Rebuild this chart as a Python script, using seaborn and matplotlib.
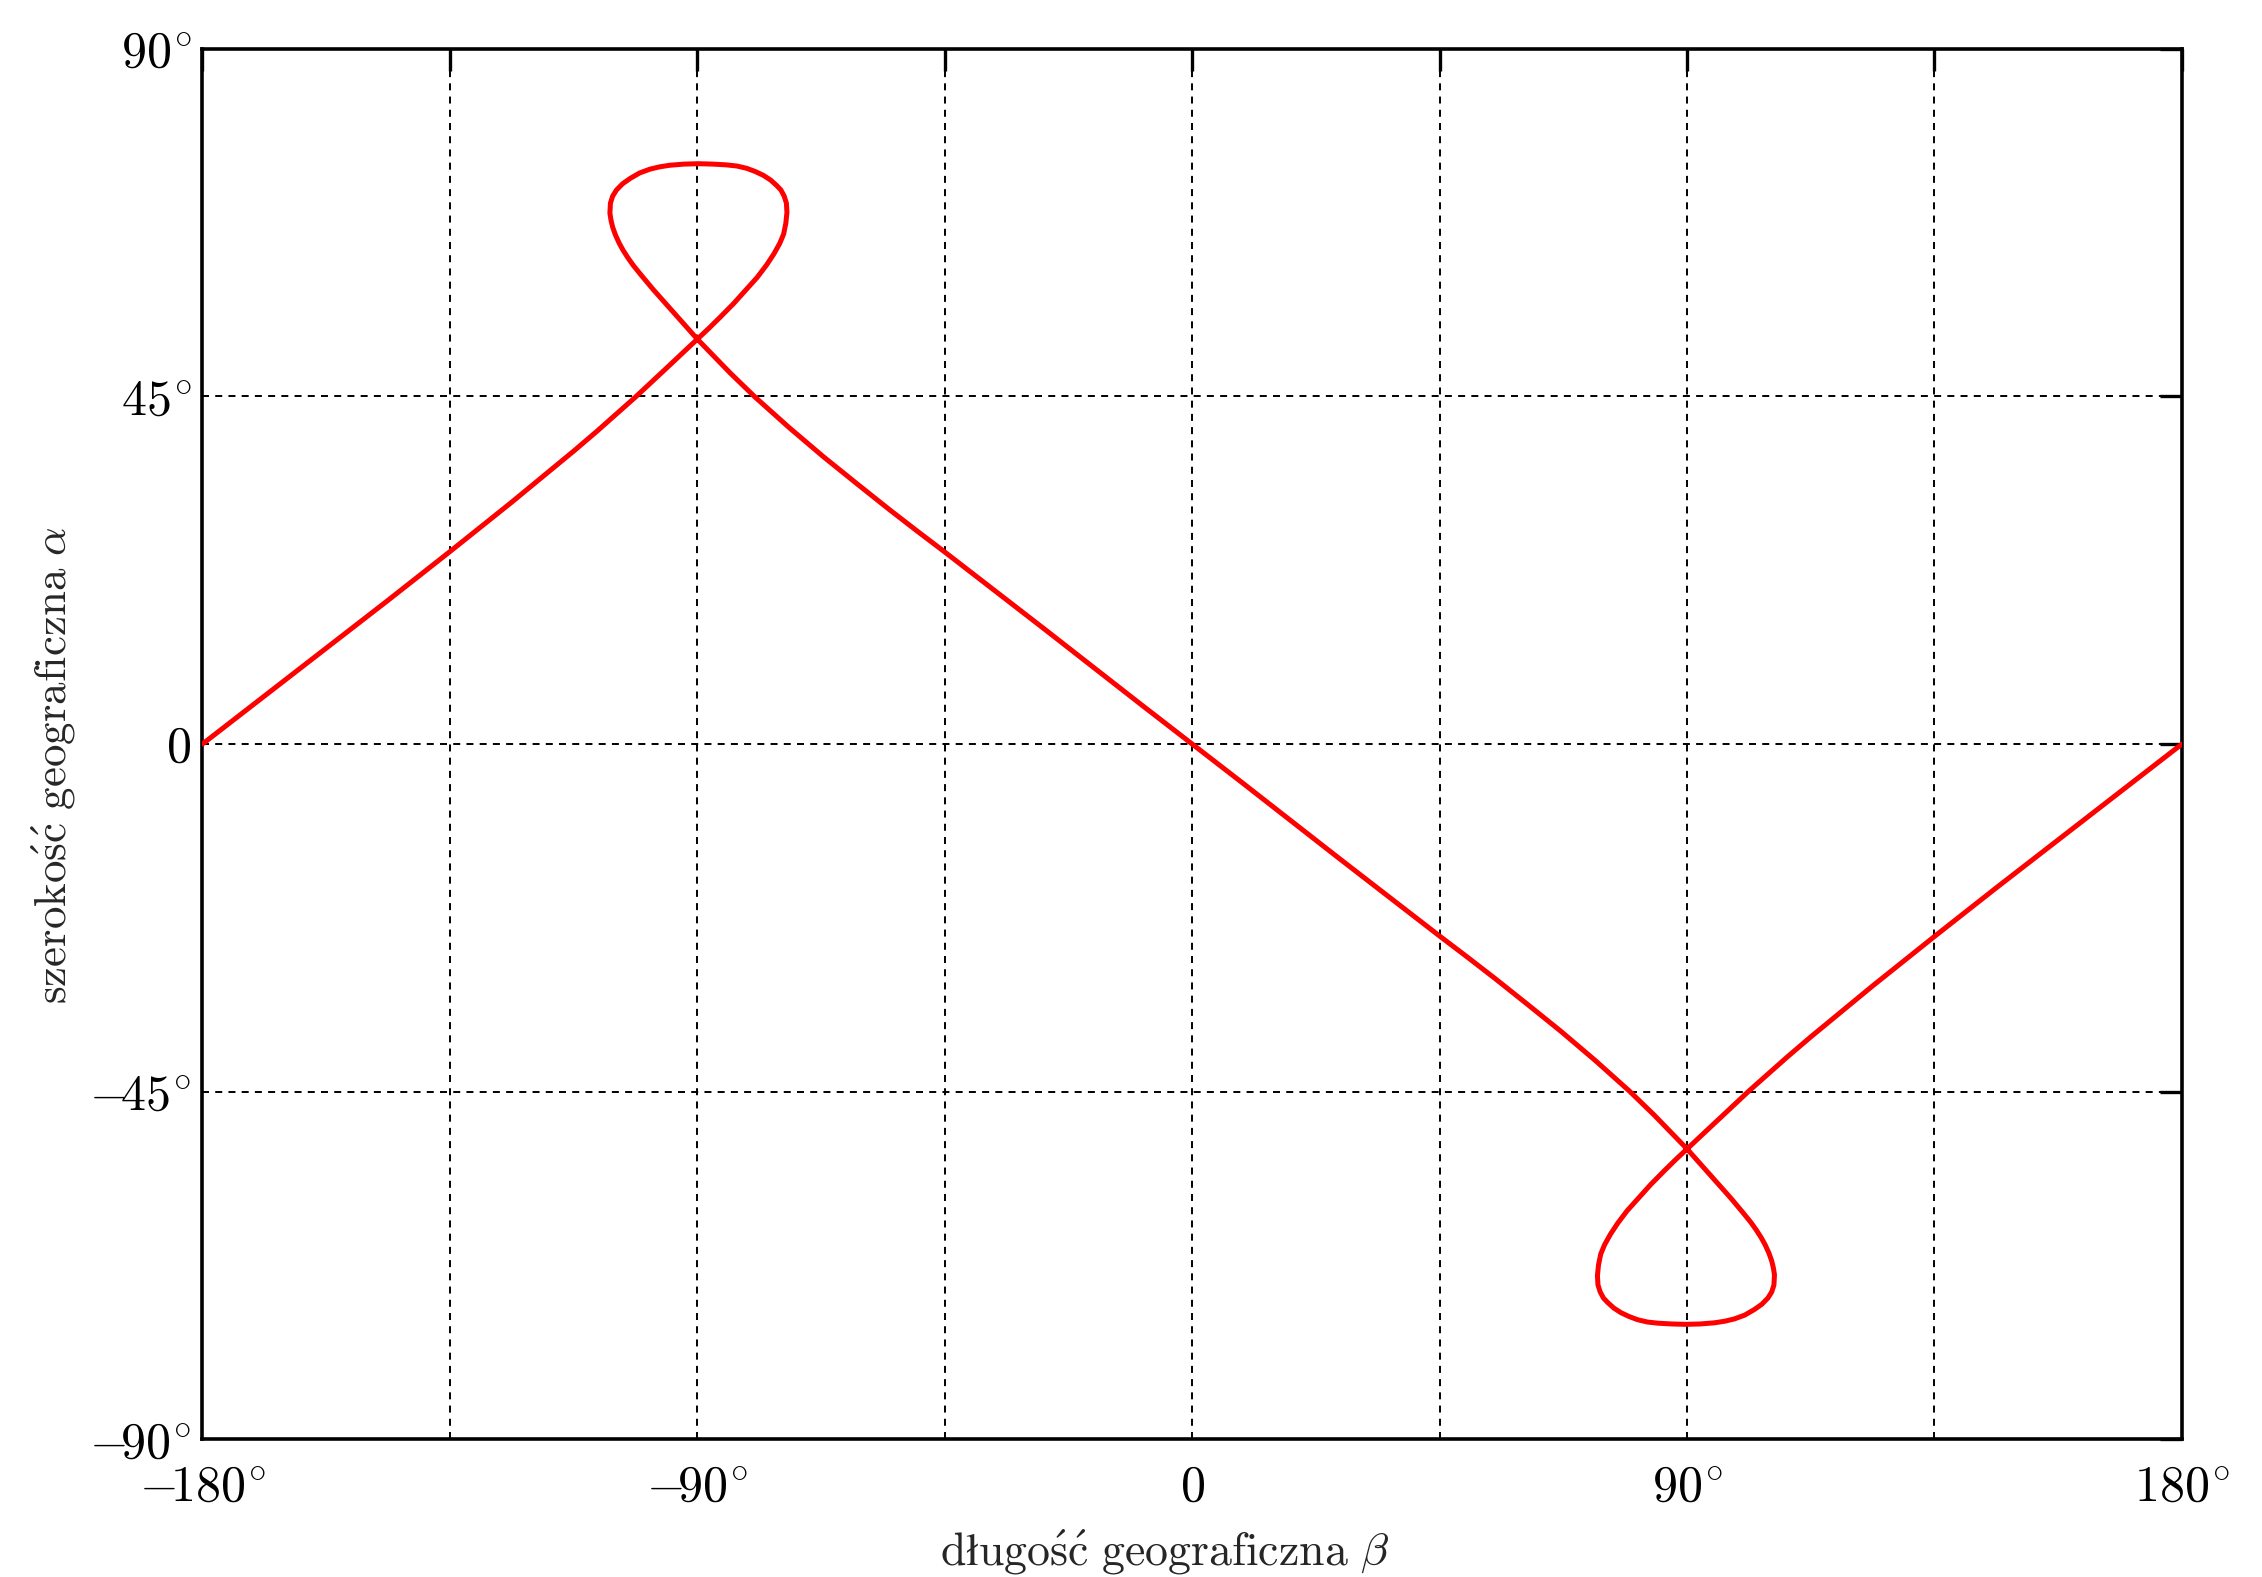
import numpy as np
import pandas as pd
import matplotlib
matplotlib.use("Agg")
import matplotlib.pyplot as plt
import seaborn as sns

# ---- data (path order) ----
seg_a_lon = [-180, -168.75, -157.5, -146.25, -135, -123.75, -112.5, -108.3, -101.25, -95.6, -90]
seg_a_lat = [0, 6.2, 12.4, 18.6, 24.9, 31.3, 37.9, 40.45, 44.9, 48.65, 52.4]

loop_n_lon = [-87.9, -85.9, -83.4, -81.0, -79.1, -77.4, -76.1, -75.0, -74.3, -73.9, -73.7,
              -73.8, -74.2, -74.8, -75.6, -76.7, -78.0, -79.5, -81.0, -82.8, -84.7,
              -87.2, -89.8, -92.4, -95.0, -96.8, -98.6, -100.5, -102.2, -103.6, -104.7,
              -105.4, -105.8, -105.9, -105.7, -105.4, -104.9, -104.2, -103.5, -102.6,
              -101.6, -100.0, -98.0, -96.0, -94.0, -92.0, -90.0]
loop_n_lat = [53.8, 55.2, 57.0, 58.9, 60.4, 62.0, 63.4, 64.8, 66.0, 67.4, 68.8,
              70.0, 70.9, 71.7, 72.3, 73.0, 73.6, 74.1, 74.5, 74.8, 74.95,
              75.05, 75.1, 75.05, 74.9, 74.7, 74.4, 73.9, 73.2, 72.5, 71.7,
              70.9, 70.0, 68.7, 67.8, 66.9, 65.9, 64.8, 63.9, 62.9,
              61.9, 60.5, 58.8, 57.2, 55.6, 54.0, 52.4]

seg_b_lon = [-87.0, -84.0, -79.5, -73.3, -67.1, -61.0, -55.0, -50.0, -45.0, -36.0, -27.0, -18.0, -9.0, 0]
seg_b_lat = [50.2, 48.0, 44.9, 40.95, 37.2, 33.7, 30.3, 27.55, 24.85, 19.9, 14.95, 9.95, 4.95, 0]

seg_c_lon = [9.0, 18.0, 27.0, 36.0, 45.0, 50.0, 55.0, 61.0, 67.1, 73.3, 79.5, 84.0, 87.0, 90.0]
seg_c_lat = [-4.95, -9.95, -14.95, -19.9, -24.85, -27.55, -30.3, -33.7, -37.2, -40.95, -44.9, -48.0, -50.2, -52.4]

loop_s_lon = [92.0, 94.0, 96.0, 98.0, 100.0, 101.6, 102.6, 103.5, 104.2, 104.9, 105.4, 105.7,
              105.9, 105.8, 105.4, 104.7, 103.6, 102.2, 100.5, 98.6, 96.8, 95.0,
              92.4, 89.8, 87.2, 84.7, 82.8, 81.0, 79.5, 78.0, 76.7, 75.6,
              74.8, 74.2, 73.8, 73.7, 73.9, 74.3, 75.0, 76.1, 77.4,
              79.1, 81.0, 83.4, 85.9, 87.9, 90.0]
loop_s_lat = [-54.0, -55.6, -57.2, -58.8, -60.5, -61.9, -62.9, -63.9, -64.8, -65.9, -66.9, -67.8,
              -68.7, -70.0, -70.9, -71.7, -72.5, -73.2, -73.9, -74.4, -74.7, -74.9,
              -75.05, -75.1, -75.05, -74.95, -74.8, -74.5, -74.1, -73.6, -73.0, -72.3,
              -71.7, -70.9, -70.0, -68.8, -67.4, -66.0, -64.8, -63.4, -62.0,
              -60.4, -58.9, -57.0, -55.2, -53.8, -52.4]

seg_d_lon = [95.6, 101.25, 108.3, 112.5, 123.75, 135.0, 146.25, 157.5, 168.75, 180.0]
seg_d_lat = [-48.65, -44.9, -40.45, -37.9, -31.3, -24.9, -18.6, -12.4, -6.2, 0]

x_ticks = [-180, -135, -90, -45, 0, 45, 90, 135, 180]
x_ticklabels = [r"$-\!180^{\!\circ}$", "", r"$-\!90^{\!\circ}$", "", r"$0$", "",
                r"$90^{\!\circ}$", "", r"$180^{\!\circ}$"]
y_ticks = [-90, -45, 0, 45, 90]
y_ticklabels = [r"$-\!90^{\!\circ}$", r"$-\!45^{\!\circ}$", r"$0$", r"$45^{\!\circ}$", r"$90^{\!\circ}$"]

xlabel_math = r"$\mathrm{d\l ugo\acute{s}\acute{c}\ geograficzna}\ \beta$"
ylabel_math = r"$\mathrm{szeroko\acute{s}\acute{c}\ geograficzna}\ \alpha$"
xlabel_plain = "długość geograficzna $\\beta$"
ylabel_plain = "szerokość geograficzna $\\alpha$"

lon = seg_a_lon + loop_n_lon + seg_b_lon + seg_c_lon + loop_s_lon + seg_d_lon
lat = seg_a_lat + loop_n_lat + seg_b_lat + seg_c_lat + loop_s_lat + seg_d_lat
df = pd.DataFrame({"lon": lon, "lat": lat})

# ---- style ----
sns.set_style("white")
plt.rcParams["font.family"] = ["cmr10", "DejaVu Serif"]
plt.rcParams["mathtext.fontset"] = "cm"
plt.rcParams["axes.unicode_minus"] = False

fig = plt.figure(figsize=(11.31, 7.885), dpi=200)
ax = fig.add_axes([0.0895, 0.0872, 0.9646 - 0.0895, 0.9692 - 0.0872])

sns.lineplot(data=df, x="lon", y="lat", sort=False, estimator=None,
             color="#ff0000", linewidth=1.8, ax=ax, zorder=3)

ax.set_xlim(-180, 180)
ax.set_ylim(-90, 90)
ax.set_xticks(x_ticks)
ax.set_xticklabels(x_ticklabels)
ax.set_yticks(y_ticks)
ax.set_yticklabels(y_ticklabels)

ax.grid(True, color="black", linewidth=0.7, linestyle=(0, (3.6, 3.2)))
ax.tick_params(direction="in", length=8, width=1.2, top=True, right=True,
               labelsize=18, colors="black")
ax.tick_params(axis="x", pad=9)
ax.tick_params(axis="y", pad=4)
for s in ax.spines.values():
    s.set_visible(True)
    s.set_linewidth(1.3)
    s.set_color("black")

ax.set_xlabel(xlabel_math, fontsize=16.5, labelpad=6)
ax.set_ylabel(ylabel_math, fontsize=16.2, labelpad=4)
try:
    fig.canvas.draw()
except Exception:
    ax.set_xlabel(xlabel_plain, fontsize=16, labelpad=6, family="DejaVu Serif")
    ax.set_ylabel(ylabel_plain, fontsize=16, labelpad=4, family="DejaVu Serif")
ax.xaxis.label.set_x(0.486)
ax.yaxis.label.set_y(0.485)

fig.savefig("out.png", dpi=200, facecolor="white")
